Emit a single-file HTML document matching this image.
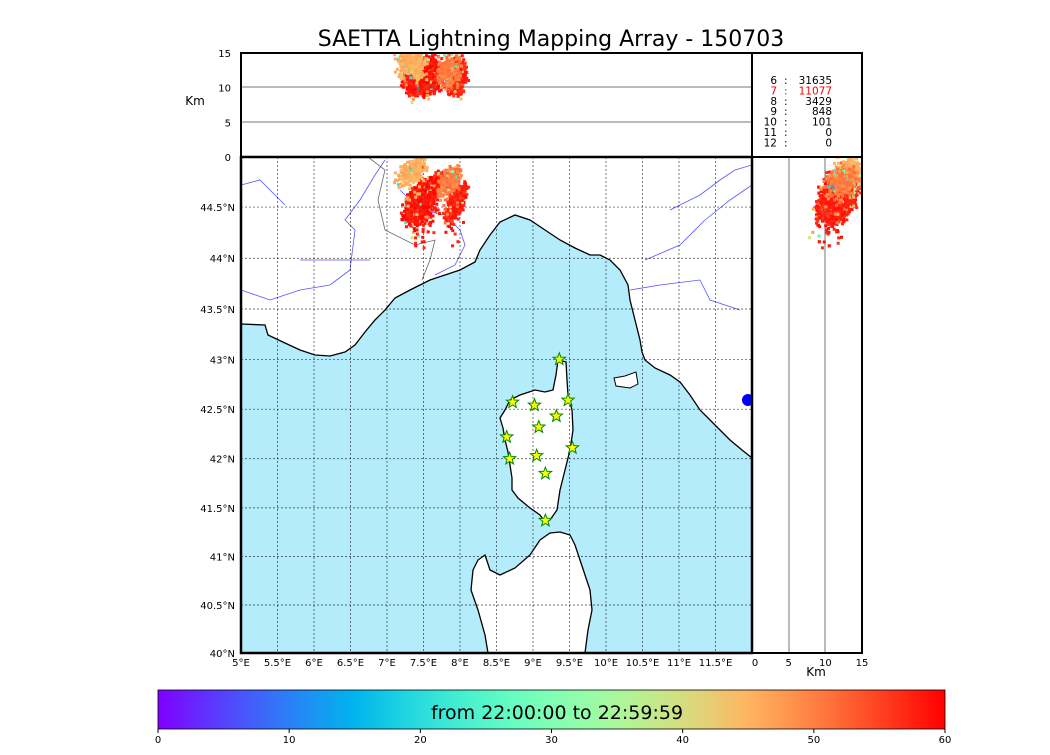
<!DOCTYPE html>
<html><head><meta charset="utf-8"><style>
body{margin:0;background:#fff;font-family:"Liberation Sans","DejaVu Sans",sans-serif}
svg text{font-family:"DejaVu Sans","Liberation Sans",sans-serif}
</style></head><body>
<svg id="c" width="1050" height="750" xmlns="http://www.w3.org/2000/svg">
<defs>
<linearGradient id="cb" x1="0" x2="1" y1="0" y2="0"></linearGradient>
<clipPath id="mapclip"><rect x="241" y="157" width="511" height="496"/></clipPath>
<clipPath id="topclip"><rect x="241" y="53" width="511" height="104"/></clipPath>
<clipPath id="rclip"><rect x="752" y="157" width="110" height="496"/></clipPath>
</defs>
<text x="551" y="46" font-size="22" text-anchor="middle">SAETTA Lightning Mapping Array - 150703</text>
<g id="map" clip-path="url(#mapclip)">
<rect x="241" y="157" width="511" height="496" fill="#fff"/>
<polygon fill="#b4ecfc" stroke="#000" stroke-width="1.3" points="241,324 265,325 268,335 285,343 300,350 315,355 330,356 345,352 355,345 365,332 375,320 385,310 395,298 410,290 420,285 430,280 445,275 460,270 475,262 480,250 490,235 500,222 515,215 530,220 545,230 560,240 575,248 590,255 600,255 610,260 620,270 628,285 630,300 635,320 640,340 642,352 645,360 655,368 670,375 680,382 690,395 700,410 715,425 730,440 742,450 752,458 752,653 241,653"/>
<polygon fill="#fff" stroke="#000" stroke-width="1.3" points="558,360 566,362 567,380 568,395 572,410 573,430 570,450 565,470 560,490 557,510 550,520 545,522 540,515 530,508 518,498 512,490 512,478 510,465 508,452 505,440 503,428 500,418 505,410 510,400 520,395 535,390 545,392 553,390 556,375"/>
<polygon fill="#fff" stroke="#000" stroke-width="1.3" points="560,532 570,535 575,545 580,560 585,575 590,590 592,610 588,630 585,653 488,653 485,635 478,610 471,590 473,570 478,560 485,555 490,570 500,575 515,568 530,555 540,540 550,533"/>
<polygon fill="#fff" stroke="#000" points="614,378 625,376 636,372 638,384 630,388 616,386"/>
<g fill="none" stroke="#55f" stroke-width="0.8">
<path d="M241,185 L260,180 L270,190 L285,205"/>
<path d="M241,290 L270,300 L300,290 L330,285 L350,270 L355,230 L345,220 L360,200 L375,175 L385,160"/>
<path d="M400,190 L420,210 L445,215 L460,230 L465,245 L455,265 L435,275"/>
<path d="M670,210 L700,195 L720,180 L735,170 L752,165"/>
<path d="M645,260 L680,245 L705,220 L730,200 L752,185"/>
<path d="M630,290 L660,285 L700,280 L710,300 L740,310"/>
<path d="M370,260 L300,260"/>
</g>
<g fill="none" stroke="#666" stroke-width="0.8">
<path d="M368,157 L385,170 L378,200 L385,230 L415,245 L435,240 L430,260 L422,280"/>
</g>
<g id="grid" stroke="#000" stroke-width="0.7" stroke-dasharray="2,2" opacity="0.75"></g>
<g id="pts"></g>
<g id="stars"></g>
<circle cx="748" cy="400" r="6" fill="#00f"/>
</g>
<rect x="241" y="157" width="511" height="496" fill="none" stroke="#000" stroke-width="2.5"/>
<g clip-path="url(#topclip)">
<line x1="241" x2="752" y1="122" y2="122" stroke="#777"/>
<line x1="241" x2="752" y1="87" y2="87" stroke="#777"/>
<g id="ptsTop"></g>
</g>
<rect x="241" y="53" width="511" height="104" fill="none" stroke="#000" stroke-width="2"/>
<g clip-path="url(#rclip)">
<line x1="789" x2="789" y1="157" y2="653" stroke="#777"/>
<line x1="825" x2="825" y1="157" y2="653" stroke="#777"/>
<g id="ptsRight"></g>
</g>
<rect x="752" y="157" width="110" height="496" fill="none" stroke="#000" stroke-width="2"/>
<rect x="752" y="53" width="110" height="104" fill="none" stroke="#000" stroke-width="2"/>
<g id="legend" font-size="10.5"></g>
<g id="axes" font-size="10"></g>
<text x="195" y="105" font-size="12" text-anchor="middle">Km</text>
<text x="816" y="676" font-size="12" text-anchor="middle">Km</text>
<rect x="158" y="690" width="787" height="39" fill="url(#cb)" stroke="#000" stroke-width="0.8"/>
<text x="557" y="719" font-size="19" text-anchor="middle">from 22:00:00 to 22:59:59</text>
<g id="cbticks" font-size="10"></g>
</svg>
<script>
const NS="http://www.w3.org/2000/svg";
// data
const lonTicks=[5,5.5,6,6.5,7,7.5,8,8.5,9,9.5,10,10.5,11,11.5];
const lonLabels=["5°E","5.5°E","6°E","6.5°E","7°E","7.5°E","8°E","8.5°E","9°E","9.5°E","10°E","10.5°E","11°E","11.5°E"];
const latTicks=[40,40.5,41,41.5,42,42.5,43,43.5,44,44.5];
const latLabels=["40°N","40.5°N","41°N","41.5°N","42°N","42.5°N","43°N","43.5°N","44°N","44.5°N"];
const kmTicks=[0,5,10,15];
const cbTicks=[0,10,20,30,40,50,60];
const flashIds=["6","7","8","9","10","11","12"];
const flashCounts=[31635,11077,3429,848,101,0,0];
const stationLon=[9.36,8.72,9.02,9.48,9.32,9.08,8.64,9.54,9.05,8.68,9.17,9.17];
const stationLat=[43.0,42.57,42.54,42.59,42.43,42.32,42.22,42.11,42.03,42.0,41.85,41.37];
// cluster data: lon, lat, alt(km), spreads, count, mean time (min)
const clLon=[7.45,7.62,7.95,7.35,7.85];
const clLat=[44.55,44.68,44.55,44.85,44.75];
const clAlt=[11.5,12,11.5,13.5,12.5];
const clSLon=[0.08,0.05,0.05,0.08,0.06];
const clSLat=[0.09,0.07,0.09,0.06,0.07];
const clN=[1100,450,400,300,250];
const clT=[60,60,59,47,52];
// axis functions
const X=lon=>241+(lon-5)*73;
const merc=l=>Math.log(Math.tan(Math.PI/4+l*Math.PI/360));
const Y=lat=>653-(merc(lat)-merc(40))*4200;
const KY=k=>157-k*104/15;
const KX=k=>752+k*110/15;
const CX=v=>158+v*787/60;
function rainbow(t){const r=Math.min(1,Math.abs(2*t-0.5)),g=Math.sin(Math.PI*t),b=Math.cos(Math.PI*t/2);
return `rgb(${Math.round(r*255)},${Math.round(g*255)},${Math.round(b*255)})`;}
function el(tag,attrs,parent){const e=document.createElementNS(NS,tag);for(const k in attrs)e.setAttribute(k,attrs[k]);parent.appendChild(e);return e;}
const grad=document.getElementById('cb');
for(let i=0;i<=20;i++){el('stop',{offset:i/20,'stop-color':rainbow(i/20)},grad);}
const grid=document.getElementById('grid');
lonTicks.forEach(l=>{const e=el('line',{x1:X(l),x2:X(l),y1:157,y2:653},grid);

});
latTicks.forEach(l=>{const e=el('line',{x1:241,x2:752,y1:Y(l),y2:Y(l)},grid);

});
const ax=document.getElementById('axes');
lonTicks.forEach((l,i)=>{const t=el('text',{x:X(l),y:666,'text-anchor':'middle'},ax);t.textContent=lonLabels[i];

});
latTicks.forEach((l,i)=>{const t=el('text',{x:235,y:Y(l)+4,'text-anchor':'end'},ax);t.textContent=latLabels[i];

});
kmTicks.forEach(k=>{const t=el('text',{x:231,y:KY(k)+4,'text-anchor':'end'},ax);t.textContent=k;


const u=el('text',{x:KX(k)+(k==0?3:0),y:666,'text-anchor':'middle'},ax);u.textContent=k;

});
const cbt=document.getElementById('cbticks');
cbTicks.forEach(v=>{el('line',{x1:CX(v),x2:CX(v),y1:729,y2:733,stroke:'#000'},cbt);
const t=el('text',{x:CX(v),y:743,'text-anchor':'middle'},cbt);t.textContent=v;

});
const lg=document.getElementById('legend');
flashIds.forEach((id,i)=>{const y=84+i*10.4;const col=i==1?'#f00':'#000';
const a=el('text',{x:777,y:y,'text-anchor':'end',fill:col},lg);a.textContent=id;


const b=el('text',{x:784,y:y,fill:col},lg);b.textContent=':';


const c=el('text',{x:832,y:y,'text-anchor':'end',fill:col},lg);c.textContent=flashCounts[i];

});
let seed=12345;function rnd(){seed=(seed*1103515245+12345)%2147483648;return seed/2147483648;}
function gauss(){return (rnd()+rnd()+rnd()-1.5)/0.5;}
const pm=document.getElementById('pts'),pt=document.getElementById('ptsTop'),pr=document.getElementById('ptsRight');
clLon.forEach((lo,c)=>{for(let i=0;i<clN[c];i++){
const d=gauss();const lon=lo+gauss()*clSLon[c]+d*0.04;let lat=clLat[c]+d*clSLat[c];
if(rnd()<0.04)lat-=rnd()*0.4;
const alt=clAlt[c]+gauss()*1.1-(clLat[c]-lat)*4;
let tm=clT[c]-Math.abs(gauss())*2; if(rnd()<0.07)tm=rnd()*45+12;tm=Math.max(0,Math.min(60,tm));
const col=rainbow(tm/60);
el('rect',{x:X(lon)-1.5,y:Y(lat)-1.5,width:3,height:3,fill:col},pm);
el('rect',{x:X(lon)-1.5,y:KY(alt)-1.5,width:3,height:3,fill:col},pt);
el('rect',{x:KX(alt)-1.5,y:Y(lat)-1.5,width:3,height:3,fill:col},pr);}});
const st=document.getElementById('stars');
function starPts(cx,cy,R){let p=[];for(let i=0;i<10;i++){const r=i%2?R*0.42:R;const a=-Math.PI/2+i*Math.PI/5;p.push((cx+r*Math.cos(a)).toFixed(1)+','+(cy+r*Math.sin(a)).toFixed(1));}return p.join(' ');}
stationLon.forEach((lo,i)=>{const s=el('polygon',{points:starPts(X(lo),Y(stationLat[i]),6.5),fill:'#ff0',stroke:'#080','stroke-width':1},st);

});
</script>
</body></html>
